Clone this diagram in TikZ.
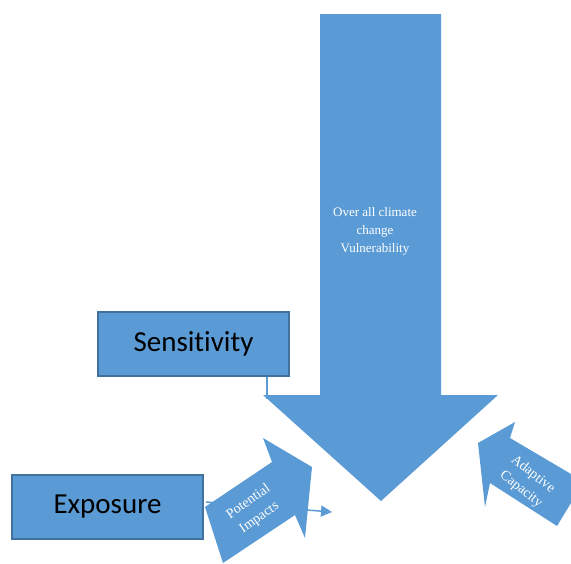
\documentclass[tikz,border=0pt]{standalone}
\usepackage{fontspec}
\setmainfont{Liberation Serif}
\newfontfamily\calibri[Ligatures=NoCommon]{Carlito}
\usetikzlibrary{arrows.meta, positioning}
\definecolor{officeblue}{HTML}{5B9BD5}
\definecolor{boxline}{HTML}{41719C}

\begin{document}
\begin{tikzpicture}[x=1pt,y=-1pt,
        >={Triangle[length=11pt,width=11pt]},
        factor/.style={draw=boxline, line width=2pt, fill=officeblue,
          minimum width=191pt, minimum height=64pt,
          font=\calibri\fontsize{29}{31}\selectfont},
        blockarrow/.style={fill=officeblue, draw=none},
        arrowtext/.style={text=white, align=center, inner sep=0pt},
        link/.style={draw=officeblue, line width=1.5pt}
        ]
        \useasboundingbox (0,0) rectangle (571,563);

        % factor boxes
        \node[factor] (sens) at (193.5,344) {Sensitivity};
        \node[factor] (expo) at (107.5,507) {Exposure};

        % connectors (drawn first, the block arrows cover them)
        \coordinate (sens-end) at (267,399);
        \coordinate (expo-out) at (206,502);
        \coordinate (impact-end) at (332,512);
        \draw[link] (sens.south -| sens-end) -- (sens-end);
        \draw[link,->] (expo-out) -- (impact-end);

        % main arrow
        \fill[blockarrow] (320,14) -- (441,14) -- (441,395) -- (498,395)
          -- (381,501) -- (263,395) -- (320,395) -- cycle;
        \node[arrowtext, font=\fontsize{13}{18}\selectfont] (vuln) at (375,231)
          {Over all climate\\change\\Vulnerability};

        % potential impacts
        \fill[blockarrow] (263,438) -- (312,467) -- (305,538) -- (295,515)
          -- (223,563) -- (205,507) -- (272,462) -- cycle;
        \node[arrowtext, rotate=35, font=\fontsize{14}{19}\selectfont] (impact) at (254,510)
          {Potential\\Impacts};

        % adaptive capacity
        \fill[blockarrow] (515,422) -- (510,438) -- (571,474) -- (571,503)
          -- (557,526) -- (490,483) -- (485,507) -- (478,443) -- cycle;
        \node[arrowtext, rotate=-38, font=\fontsize{14}{19}\selectfont] (adapt) at (527,482)
          {Adaptive\\Capacity};
\end{tikzpicture}
\end{document}
